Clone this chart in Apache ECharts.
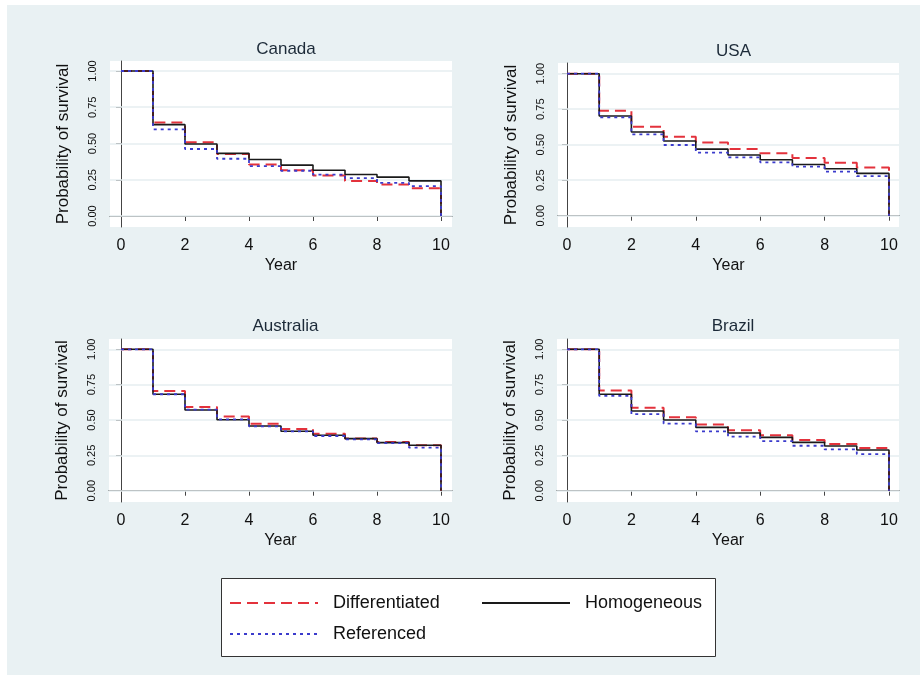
<!DOCTYPE html>
<html><head><meta charset="utf-8">
<script src="https://cdn.jsdelivr.net/npm/echarts@6/dist/echarts.min.js"></script>
<style>html,body{margin:0;padding:0;background:#fff}#c{width:920px;height:675px}</style>
</head><body><div id="c"></div><script>
// ---- data ----
const years = [0,1,2,3,4,5,6,7,8,9,10];
const xTicks = [0,2,4,6,8,10];
const yTicks = [0,0.25,0.5,0.75,1];
const countries = ['Canada','USA','Australia','Brazil'];
const seriesNames = ['Differentiated','Homogeneous','Referenced'];

const canadaDifferentiated = [1,0.644,0.508,0.427,0.356,0.316,0.279,0.242,0.217,0.192,0];
const canadaHomogeneous    = [1,0.630,0.497,0.432,0.390,0.351,0.316,0.286,0.268,0.242,0];
const canadaReferenced     = [1,0.598,0.462,0.395,0.344,0.312,0.286,0.261,0.229,0.206,0];

const usaDifferentiated = [1,0.739,0.627,0.556,0.516,0.469,0.439,0.406,0.373,0.340,0];
const usaHomogeneous    = [1,0.702,0.589,0.526,0.469,0.427,0.394,0.361,0.331,0.298,0];
const usaReferenced     = [1,0.692,0.573,0.498,0.444,0.411,0.376,0.345,0.310,0.279,0];

const australiaDifferentiated = [1,0.705,0.592,0.524,0.474,0.436,0.403,0.370,0.344,0.321,0];
const australiaHomogeneous    = [1,0.682,0.571,0.502,0.458,0.420,0.392,0.368,0.340,0.321,0];
const australiaReferenced     = [1,0.682,0.573,0.505,0.455,0.420,0.387,0.363,0.337,0.304,0];

const brazilDifferentiated = [1,0.708,0.587,0.519,0.469,0.427,0.392,0.358,0.330,0.302,0];
const brazilHomogeneous    = [1,0.682,0.564,0.500,0.448,0.408,0.377,0.342,0.316,0.288,0];
const brazilReferenced     = [1,0.670,0.542,0.474,0.420,0.382,0.351,0.318,0.292,0.259,0];

const panelValues = [
  [canadaDifferentiated, canadaHomogeneous, canadaReferenced],
  [usaDifferentiated, usaHomogeneous, usaReferenced],
  [australiaDifferentiated, australiaHomogeneous, australiaReferenced],
  [brazilDifferentiated, brazilHomogeneous, brazilReferenced]
];

// ---- layout (pixels) ----
const layout = [
  {bl:110, bt:61,  br:452, bb:227, x0:121, x10:441, y1:71,   y0:216,   ty:36},
  {bl:558, bt:63,  br:899, bb:227, x0:567, x10:889, y1:73.7, y0:215.7, ty:38},
  {bl:109, bt:339, br:452, bb:502, x0:121, x10:441, y1:349.3,y0:490.7, ty:313},
  {bl:557, bt:339, br:899, bb:502, x0:567, x10:889, y1:349.3,y0:490.7, ty:313}
];

const styles = [
  {color:'#e3323c', width:2,   type:[11,6]},
  {color:'#1a1a1a', width:1.6, type:'solid'},
  {color:'#3b3bcc', width:1.8, type:[3,4]}
];

const FONT = 'Liberation Sans, Arial, Helvetica, sans-serif';
const grids = [], xAxes = [], yAxes = [], series = [], titles = [];

layout.forEach((L, i) => {
  const pxYear = (L.x10 - L.x0) / 10;
  const pxUnit = (L.y0 - L.y1);
  grids.push({left:L.bl, top:L.bt, width:L.br-L.bl, height:L.bb-L.bt,
    show:true, backgroundColor:'#ffffff', borderWidth:0});
  titles.push({text:countries[i], left:(L.bl+L.br)/2, top:L.ty, textAlign:'center',
    textStyle:{fontFamily:FONT, fontSize:17, fontWeight:'normal', color:'#1c2a38'}});
  xAxes.push({type:'value', gridIndex:i,
    min: -(L.x0 - L.bl)/pxYear, max: 10 + (L.br - L.x10)/pxYear,
    name:'Year', nameLocation:'middle', nameGap:31,
    nameTextStyle:{fontFamily:FONT, fontSize:16, color:'#111'},
    axisLine:{show:true, lineStyle:{color:'#444', width:1}},
    axisTick:{show:true, length:5, customValues:xTicks, lineStyle:{color:'#444'}},
    axisLabel:{customValues:xTicks, margin:11, fontFamily:FONT, fontSize:16, color:'#111'},
    splitLine:{show:false}});
  yAxes.push({type:'value', gridIndex:i,
    min: -(L.bb - L.y0)/pxUnit, max: 1 + (L.y1 - L.bt)/pxUnit,
    name:'Probability of survival', nameLocation:'middle', nameGap:38,
    nameTextStyle:{fontFamily:FONT, fontSize:17, color:'#111'},
    axisLine:{show:true, lineStyle:{color:'#444', width:1}},
    axisTick:{show:true, length:5, customValues:yTicks, lineStyle:{color:'#444'}},
    axisLabel:{customValues:yTicks, rotate:90, margin:12, fontFamily:FONT, fontSize:11, color:'#111',
      formatter: v => v.toFixed(2)},
    splitLine:{show:false}});
  // gridlines (drawn beneath the curves)
  series.push({type:'line', xAxisIndex:i, yAxisIndex:i, data:[], silent:true, z:1,
    markLine:{silent:true, z:1, symbol:'none', label:{show:false},
      lineStyle:{color:'#e6eef0', width:1.5, type:'solid'},
      data: yTicks.map(v => ({yAxis:v}))}});
  panelValues[i].forEach((vals, k) => {
    series.push({type:'line', name:seriesNames[k], xAxisIndex:i, yAxisIndex:i,
      step:'end', symbol:'none', z:3+k, animation:false,
      lineStyle:{color:styles[k].color, width:styles[k].width, type:styles[k].type},
      itemStyle:{color:styles[k].color},
      data: years.map((t, j) => [t, vals[j]])});
  });
});

const legendCommon = {
  orient:'vertical', top:594, padding:0, itemGap:13, itemWidth:88, itemHeight:14,
  itemStyle:{opacity:0}, selectedMode:false,
  textStyle:{fontFamily:FONT, fontSize:18, color:'#111', padding:[0,0,0,10]}
};

const chart = echarts.init(document.getElementById('c'), null, {renderer:'canvas'});
chart.setOption({
  animation:false,
  backgroundColor:'#e9f1f3',
  title: titles,
  grid: grids, xAxis: xAxes, yAxis: yAxes, series: series,
  legend: [
    Object.assign({data:[seriesNames[0], seriesNames[2]], left:229}, legendCommon),
    Object.assign({data:[seriesNames[1]], left:481}, legendCommon)
  ],
  graphic: [
    {type:'rect', shape:{x:0, y:0, width:7, height:675}, style:{fill:'#ffffff'}, silent:true},
    {type:'rect', shape:{x:0, y:0, width:920, height:5}, style:{fill:'#ffffff'}, silent:true},
    {type:'rect', shape:{x:221.5, y:578.5, width:494, height:78}, style:{fill:'#ffffff', stroke:'#333', lineWidth:1}, silent:true}
  ]
});
</script></body></html>
